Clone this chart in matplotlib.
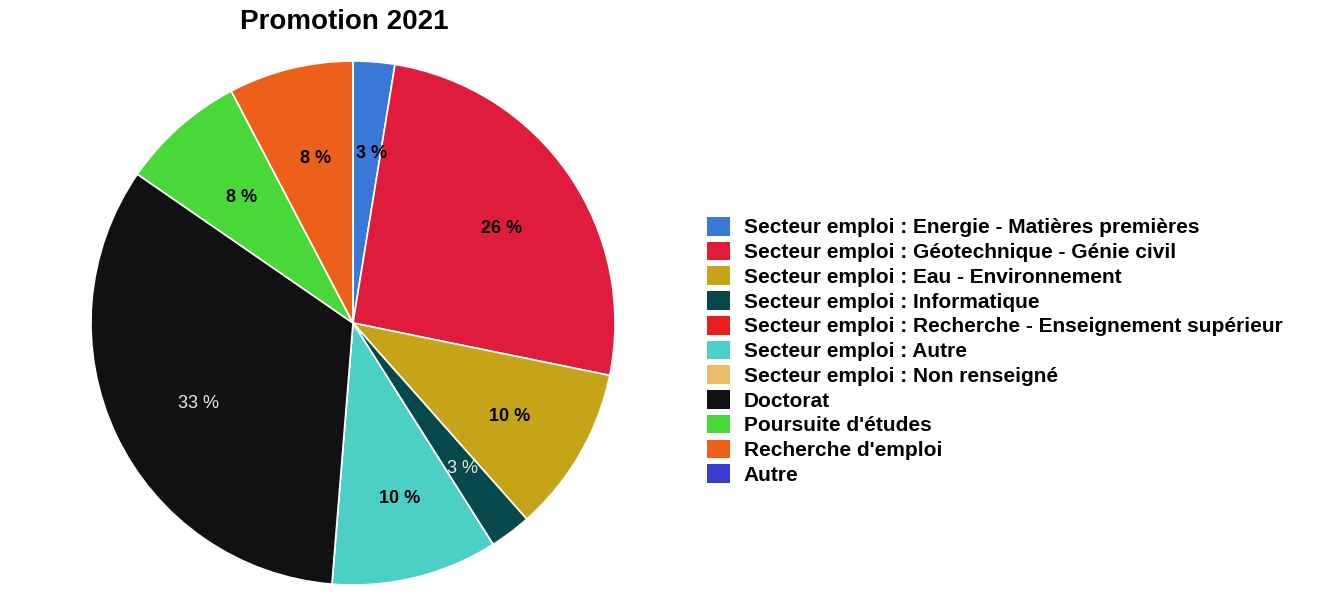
import matplotlib
matplotlib.use("Agg")
import matplotlib.pyplot as plt
from matplotlib.patches import Patch

categories = [
    "Secteur emploi : Energie - Matières premières",
    "Secteur emploi : Géotechnique - Génie civil",
    "Secteur emploi : Eau - Environnement",
    "Secteur emploi : Informatique",
    "Secteur emploi : Recherche - Enseignement supérieur",
    "Secteur emploi : Autre",
    "Secteur emploi : Non renseigné",
    "Doctorat",
    "Poursuite d'études",
    "Recherche d'emploi",
    "Autre",
]
counts = [1, 10, 4, 1, 0, 4, 0, 13, 3, 3, 0]
colors = ["#3a78d8", "#e01c3c", "#c6a418", "#07494a", "#e6201e", "#4ccfc4",
          "#ecbd68", "#111114", "#48d83a", "#ec6019", "#3b3bd0"]
dark = {"#07494a", "#111114"}
title = "Promotion 2021"

plt.rcParams['font.family'] = ['Liberation Sans', 'DejaVu Sans']

W, H = 1340, 605
fig = plt.figure(figsize=(W / 100, H / 100), dpi=100)
cx, cy, r = 353, 323, 262
ax = fig.add_axes([(cx - r) / W, (H - cy - r) / H, 2 * r / W, 2 * r / H])

def fmt(p):
    return "" if p < 0.5 else f"{p:.0f} %"

wedges, texts, autotexts = ax.pie(
    counts, colors=colors, startangle=90, counterclock=False,
    autopct=fmt, pctdistance=0.67,
    wedgeprops=dict(edgecolor="white", linewidth=1.2),
    textprops=dict(fontsize=13, fontweight="bold", color="black"))
for t, c in zip(autotexts, colors):
    x, y = t.get_position()
    t.set_position((x + 4.5 / r, y - 5.5 / r))
    if c in dark:
        t.set_color("#e6e6e6")
        t.set_fontweight("normal")
ax.set_xlim(-1, 1)
ax.set_ylim(-1, 1)
ax.set_aspect("equal")
ax.axis("off")

fig.text(344 / W, 1 - 22 / H, title, ha="center", va="center",
         fontsize=20, fontweight="bold")

handles = [Patch(facecolor=c, edgecolor="none") for c in colors]
leg = fig.legend(handles, categories, loc="upper left",
                 bbox_to_anchor=(707 / W, 1 - 217 / H),
                 frameon=False,
                 prop=dict(weight="bold", size=15),
                 handlelength=1.1, handleheight=1.0, handletextpad=0.67,
                 labelspacing=0.205, borderpad=0, borderaxespad=0)

fig.savefig("out.png", dpi=100, facecolor="white")
